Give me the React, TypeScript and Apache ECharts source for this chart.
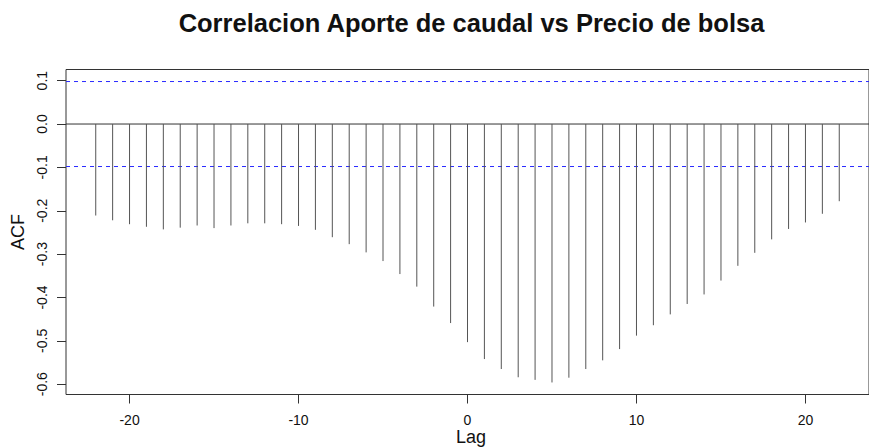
import React, { useEffect, useRef } from "react";
import * as echarts from "echarts";

// Cross-correlation lags and their ACF values
const lags: number[] = [
  -22, -21, -20, -19, -18, -17, -16, -15, -14, -13, -12, -11, -10, -9, -8, -7,
  -6, -5, -4, -3, -2, -1, 0, 1, 2, 3, 4, 5, 6, 7, 8, 9, 10, 11, 12, 13, 14, 15,
  16, 17, 18, 19, 20, 21, 22,
];
const acfValues: number[] = [
  -0.211, -0.222, -0.231, -0.237, -0.243, -0.239, -0.234, -0.24, -0.234,
  -0.229, -0.229, -0.231, -0.235, -0.244, -0.261, -0.277, -0.296, -0.316,
  -0.346, -0.375, -0.421, -0.459, -0.503, -0.542, -0.565, -0.584, -0.59,
  -0.596, -0.585, -0.565, -0.545, -0.519, -0.488, -0.464, -0.439, -0.415,
  -0.393, -0.361, -0.327, -0.297, -0.266, -0.242, -0.227, -0.207, -0.178,
];
// 95% confidence bound
const confBound = 0.098;
const xTicks: number[] = [-20, -10, 0, 10, 20];
const yTicks: number[] = [0.1, 0.0, -0.1, -0.2, -0.3, -0.4, -0.5, -0.6];

const FONT = "'Liberation Sans', Arial, sans-serif";
const BOUND_COLOR = "#2a2aff";

export default function App() {
  const ref = useRef<HTMLDivElement>(null);

  useEffect(() => {
    if (!ref.current) return;
    const chart = echarts.init(ref.current, null, { renderer: "svg" });

    // 4% padding around the data range on both axes
    const xPad = (lags[lags.length - 1] - lags[0]) * 0.04;
    const xMin = lags[0] - xPad;
    const xMax = lags[lags.length - 1] + xPad;
    const yLo = Math.min(-confBound, ...acfValues);
    const yHi = Math.max(confBound, ...acfValues);
    const yPad = (yHi - yLo) * 0.04;

    const data = lags.map((l, i) => [l, acfValues[i]]);

    // horizontal reference line spanning the whole x range
    const hLine = (level: number, color: string, type: any) => ({
      type: "line",
      data: [
        [xMin, level],
        [xMax, level],
      ],
      symbol: "none",
      silent: true,
      lineStyle: { color, type, width: 1 },
      z: 1,
    });

    chart.setOption({
      animation: false,
      backgroundColor: "#ffffff",
      textStyle: { fontFamily: FONT },
      grid: {
        left: 66,
        top: 69.5,
        width: 811,
        height: 325,
        show: true,
        borderColor: "#333",
        borderWidth: 1,
        backgroundColor: "transparent",
      },
      xAxis: {
        type: "value",
        min: xMin,
        max: xMax,
        splitLine: { show: false },
        axisLine: { show: false, onZero: false },
        axisTick: {
          show: true,
          length: 9,
          lineStyle: { color: "#333" },
          customValues: xTicks,
        },
        axisLabel: {
          customValues: xTicks,
          margin: 18,
          fontSize: 14,
          color: "#111",
          fontFamily: FONT,
        },
      },
      yAxis: {
        type: "value",
        min: yLo - yPad,
        max: yHi + yPad,
        splitLine: { show: false },
        axisLine: { show: false, onZero: false },
        axisTick: {
          show: true,
          length: 9,
          lineStyle: { color: "#333" },
          customValues: yTicks,
        },
        axisLabel: {
          customValues: yTicks,
          rotate: 90,
          margin: 17,
          fontSize: 14,
          color: "#111",
          fontFamily: FONT,
          formatter: (v: number) => v.toFixed(1),
        },
      },
      series: [
        hLine(0, "#333", "solid"),
        hLine(confBound, BOUND_COLOR, [4, 4]),
        hLine(-confBound, BOUND_COLOR, [4, 4]),
        {
          type: "custom",
          data,
          z: 2,
          renderItem: (params: any, api: any) => {
            const x = api.value(0);
            const y = api.value(1);
            const p0 = api.coord([x, 0]);
            const p1 = api.coord([x, y]);
            return {
              type: "line",
              shape: { x1: p0[0], y1: p0[1], x2: p1[0], y2: p1[1] },
              style: { stroke: "#555", lineWidth: 1 },
            };
          },
        },
      ],
      graphic: [
        {
          type: "text",
          x: 471.5,
          y: 23,
          style: {
            text: "Correlacion Aporte de caudal vs Precio de bolsa",
            font: `bold 25.5px ${FONT}`,
            fill: "#111",
            textAlign: "center",
            textVerticalAlign: "middle",
          },
        },
        {
          type: "text",
          x: 471,
          y: 437,
          style: {
            text: "Lag",
            font: `18px ${FONT}`,
            fill: "#111",
            textAlign: "center",
            textVerticalAlign: "middle",
          },
        },
        {
          type: "text",
          x: 18,
          y: 232,
          rotation: Math.PI / 2,
          style: {
            text: "ACF",
            font: `18px ${FONT}`,
            fill: "#111",
            textAlign: "center",
            textVerticalAlign: "middle",
          },
        },
      ],
    });

    return () => chart.dispose();
  }, []);

  return (
    <div
      ref={ref}
      style={{ position: "fixed", left: 0, top: 0, width: 869, height: 448 }}
    />
  );
}
